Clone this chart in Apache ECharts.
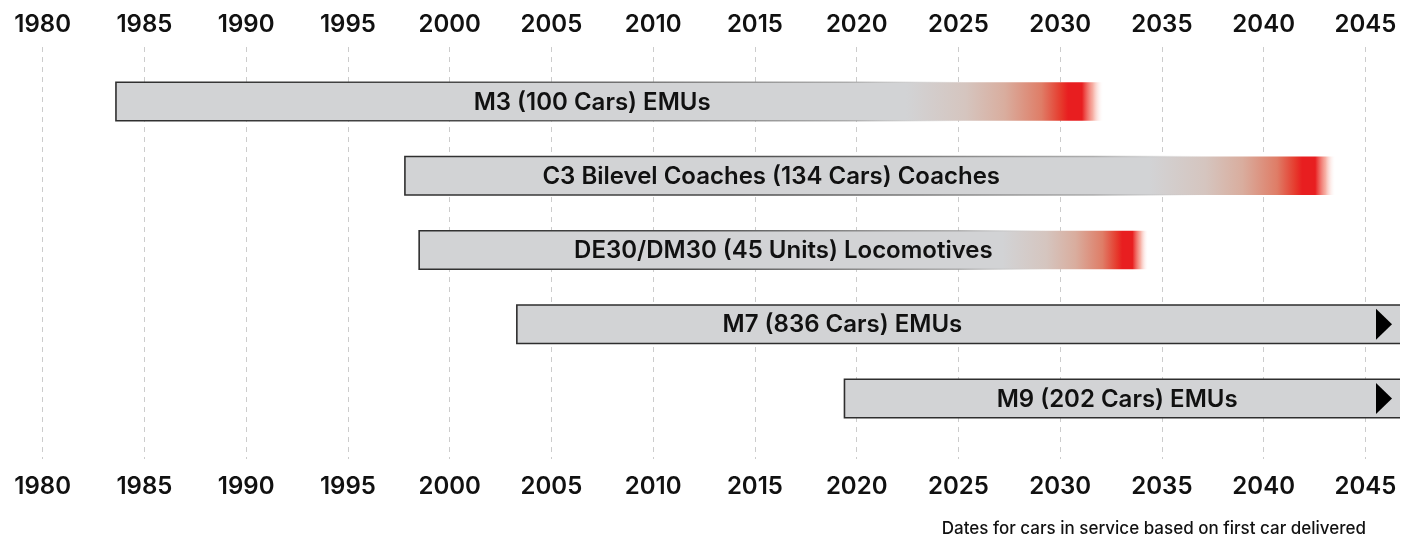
<!DOCTYPE html>
<html>
<head>
<meta charset="utf-8">
<script src="https://cdn.jsdelivr.net/npm/echarts@6/dist/echarts.min.js"></script>
<style>
  html, body { margin: 0; padding: 0; background: #ffffff; }
  #chart { width: 1401px; height: 539px; }
</style>
</head>
<body>
<div id="chart"></div>
<script>
// Fleet rows, top to bottom
const fleets = [
  'M3 (100 Cars) EMUs',
  'C3 Bilevel Coaches (134 Cars) Coaches',
  'DE30/DM30 (45 Units) Locomotives',
  'M7 (836 Cars) EMUs',
  'M9 (202 Cars) EMUs'
];
// Year the first car entered service
const firstDelivered = [1983.6, 1997.8, 1998.5, 2003.3, 2019.4];
// Year the fleet fades out of service (null = still running past the timeline)
const retiredBy = [2032.1, 2043.5, 2034.3, null, null];
// Year labels along the timeline
const yearTicks = [1980, 1985, 1990, 1995, 2000, 2005, 2010, 2015, 2020, 2025, 2030, 2035, 2040, 2045];
const footnote = 'Dates for cars in service based on first car delivered';

// Layout: where each fleet name sits along its bar (in years)
const labelYear = [2007.0, 2015.8, 2016.4, 2019.3, 2032.8];

const FONT = 'Inter, Roboto, "Liberation Sans", Arial, sans-serif';
const BAR_GRAY = '#d2d3d5';
const EDGE = '#2e2e2e';

const fadeFill = new echarts.graphic.LinearGradient(0, 0, 1, 0, [
  { offset: 0.00, color: BAR_GRAY },
  { offset: 0.80, color: BAR_GRAY },
  { offset: 0.86, color: '#d5c5bf' },
  { offset: 0.90, color: '#d9ad9e' },
  { offset: 0.937, color: '#df7d67' },
  { offset: 0.957, color: '#e6392c' },
  { offset: 0.964, color: '#e81e20' },
  { offset: 0.978, color: '#e81e20' },
  { offset: 0.989, color: 'rgba(240,110,90,0.55)' },
  { offset: 1.00, color: 'rgba(255,255,255,0)' }
]);
const fadeEdge = new echarts.graphic.LinearGradient(0, 0, 1, 0, [
  { offset: 0.00, color: EDGE },
  { offset: 0.35, color: '#4a4a4a' },
  { offset: 0.55, color: '#7c7c7c' },
  { offset: 0.74, color: 'rgba(150,150,150,0.7)' },
  { offset: 0.86, color: 'rgba(200,200,200,0)' },
  { offset: 1.00, color: 'rgba(200,200,200,0)' }
]);

function renderBar(params, api) {
  const i = params.dataIndex;
  const cs = params.coordSys;
  const rightEdge = cs.x + cs.width;
  const start = api.coord([firstDelivered[i], i]);
  const h = api.size([0, 0.52])[1];
  const top = start[1] - h / 2;
  const x0 = start[0];
  const children = [];
  const running = retiredBy[i] == null;

  if (!running) {
    const x1 = api.coord([retiredBy[i], i])[0];
    children.push({
      type: 'rect',
      shape: { x: x0, y: top, width: x1 - x0, height: h },
      style: { fill: fadeFill, stroke: fadeEdge, lineWidth: 1.6 }
    });
  } else {
    const x1 = rightEdge + 4;
    children.push({
      type: 'rect',
      shape: { x: x0, y: top, width: x1 - x0, height: h },
      style: { fill: BAR_GRAY }
    });
    children.push({
      type: 'polyline',
      shape: { points: [[x1, top], [x0, top], [x0, top + h], [x1, top + h]] },
      style: { stroke: EDGE, lineWidth: 1.6, fill: null }
    });
    children.push({
      type: 'polygon',
      shape: { points: [[rightEdge - 24, start[1] - 15.5], [rightEdge - 8, start[1]], [rightEdge - 24, start[1] + 15.5]] },
      style: { fill: '#000000' }
    });
  }

  const lx = api.coord([labelYear[i], i])[0];
  children.push({
    type: 'text',
    style: {
      text: fleets[i],
      x: lx,
      y: start[1] + 1,
      align: 'center',
      verticalAlign: 'middle',
      fill: '#111111',
      font: '600 24px ' + FONT
    }
  });
  return { type: 'group', children };
}

const axisCommon = {
  type: 'value',
  min: 1978,
  max: 2046.7,
  axisLine: { show: false },
  axisTick: { show: false, customValues: yearTicks },
  axisLabel: {
    customValues: yearTicks,
    formatter: v => String(v),
    color: '#111111',
    fontSize: 24,
    fontWeight: 600,
    fontFamily: FONT
  }
};

const chart = echarts.init(document.getElementById('chart'), null, { renderer: 'canvas' });
chart.setOption({
  animation: false,
  backgroundColor: '#ffffff',
  grid: { left: 2, right: 1, top: 47, bottom: 80, containLabel: false },
  xAxis: [
    Object.assign({}, axisCommon, {
      position: 'top',
      axisLabel: Object.assign({}, axisCommon.axisLabel, { margin: 10 }),
      splitLine: { show: true, lineStyle: { type: [5, 5], color: '#cccccc', width: 1 } }
    }),
    Object.assign({}, axisCommon, {
      position: 'bottom',
      axisLabel: Object.assign({}, axisCommon.axisLabel, { margin: 16 }),
      splitLine: { show: false }
    })
  ],
  yAxis: { type: 'value', inverse: true, min: -0.734, max: 4.815, show: false },
  graphic: [{
    type: 'text',
    right: 35,
    top: 520,
    style: { text: footnote, fill: '#111111', font: '500 17px ' + FONT }
  }],
  series: [{
    type: 'custom',
    xAxisIndex: 0,
    yAxisIndex: 0,
    clip: true,
    renderItem: renderBar,
    encode: { x: 0, y: 1 },
    data: fleets.map((name, i) => [firstDelivered[i], i])
  }]
});
</script>
</body>
</html>
